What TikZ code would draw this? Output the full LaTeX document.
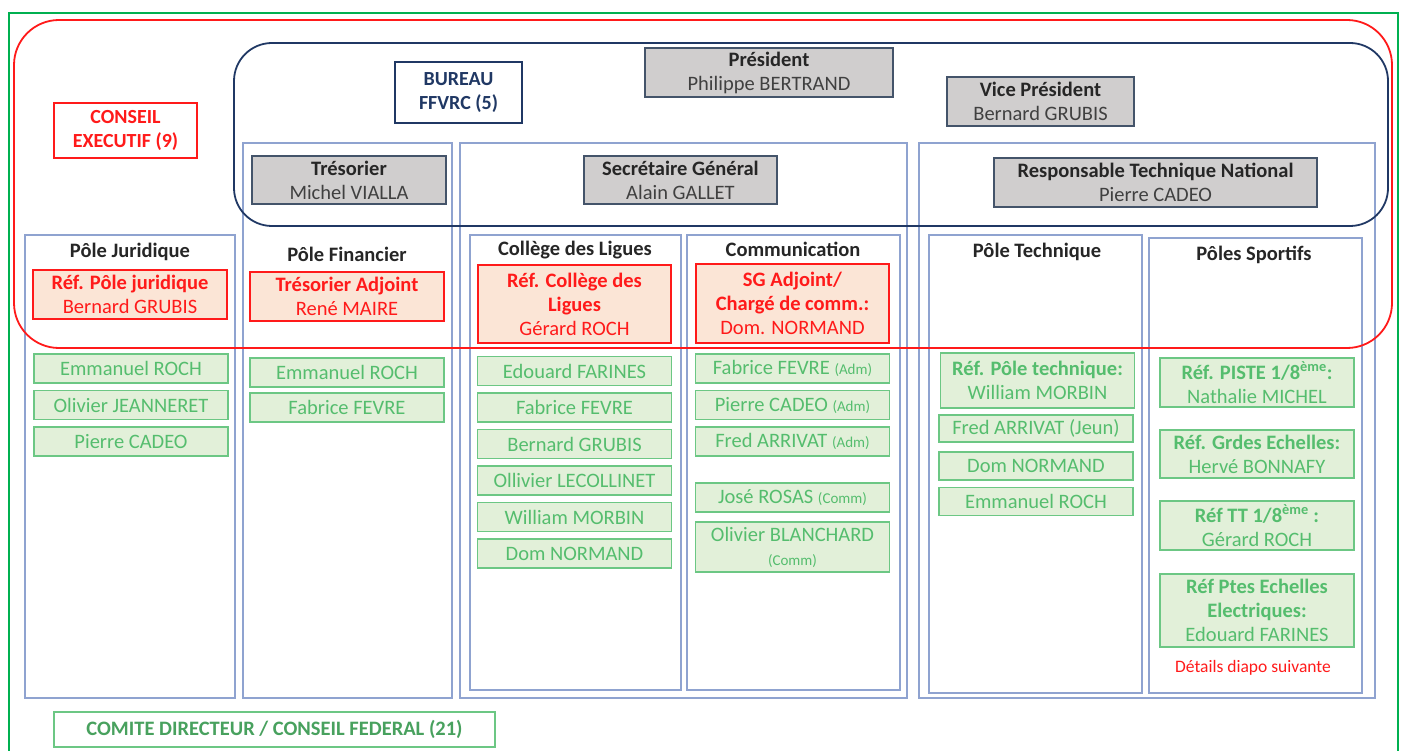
\documentclass[tikz,border=0pt]{standalone}
\usepackage{fontspec}
\setmainfont{Carlito}
\usetikzlibrary{positioning}

\definecolor{marine}{HTML}{203864}
\definecolor{cadre}{HTML}{8FA3D0}
\definecolor{grisfond}{HTML}{D0CECE}
\definecolor{grisbord}{HTML}{44546A}
\definecolor{textegris}{HTML}{404040}
\definecolor{titregris}{HTML}{262626}
\definecolor{rose}{HTML}{FBE5D6}
\definecolor{rouge}{HTML}{FF1A1A}
\definecolor{vertfond}{HTML}{E2F0D9}
\definecolor{vertbord}{HTML}{6CC784}
\definecolor{verttexte}{HTML}{55BD6E}
\definecolor{vertcadre}{HTML}{00B050}

\tikzset{
  colonne/.style={draw=cadre, line width=1.2pt, inner sep=0pt},
  entete/.style={text=titregris, font=\fontsize{20.5}{24}\selectfont\bfseries},
  grisbox/.style={draw=grisbord, fill=grisfond, line width=1.5pt, inner sep=0pt,
    align=center, text=textegris, font=\fontsize{20.5}{24}\selectfont},
  rosebox/.style={draw=rouge, fill=rose, line width=1.5pt, inner sep=0pt,
    align=center, text=rouge, font=\fontsize{20.5}{24}\selectfont},
  vertbox/.style={draw=vertbord, fill=vertfond, line width=1.5pt, inner sep=0pt,
    outer sep=0pt, align=center, text=verttexte, minimum width=194,
    minimum height=29, font=\fontsize{20.5}{24}\selectfont},
  petit/.style={font=\fontsize{17.5}{20}\selectfont}
}

\begin{document}
\begin{tikzpicture}[x=1pt, y=-1pt, node distance=7.5pt]
  \useasboundingbox (0,0) rectangle (1405,751);

  % cadre vert du comite directeur
  \draw[vertcadre, line width=1.5pt] (9,760) |- (1398,13) -- (1398,760);

  % colonnes
  \node[colonne, minimum width=210, minimum height=463] (cJur) at (130,466.5) {};
  \node[colonne, minimum width=209, minimum height=555] (cTres) at (347.5,420.5) {};
  \node[colonne, minimum width=447, minimum height=555] (cSG) at (683.5,420.5) {};
  \node[colonne, minimum width=456, minimum height=555] (cRTN) at (1147,420.5) {};
  \node[colonne, minimum width=211, minimum height=455] (cCol) at (575.5,462.5) {};
  \node[colonne, minimum width=213, minimum height=455] (cCom) at (793.5,462.5) {};
  \node[colonne, minimum width=213, minimum height=458] (cTech) at (1035.5,464) {};
  \node[colonne, minimum width=213, minimum height=455] (cSport) at (1255.5,465.5) {};

  \node[entete] (hJur) at (130,252) {Pôle Juridique};
  \node[entete] (hFin) at (347,254) {Pôle Financier};
  \node[entete] (hCol) at (575,250) {Collège des Ligues};
  \node[entete] (hCom) at (793,249) {Communication};
  \node[entete] (hTech) at (1037,252) {Pôle Technique};
  \node[entete] (hSport) at (1254,255) {Pôles Sportifs};

  % conseil executif et bureau
  \node[draw=rouge, line width=1.8pt, rounded corners=45, inner sep=0pt,
    minimum width=1378, minimum height=328] (executif) at (703,184) {};
  \node[draw=marine, line width=1.8pt, rounded corners=38, inner sep=0pt,
    minimum width=1154, minimum height=183] (bureau) at (811,134.5) {};

  \node[draw=rouge, line width=1.2pt, fill=white, inner sep=0pt, align=center,
    text=rouge, font=\fontsize{20}{24}\selectfont\bfseries,
    minimum width=143, minimum height=55] (ce) at (125.5,130.5) {CONSEIL\\EXECUTIF (9)};
  \node[draw=marine, line width=1.2pt, fill=white, inner sep=0pt, align=center,
    text=marine, font=\fontsize{20}{24}\selectfont\bfseries,
    minimum width=127, minimum height=61] (bu) at (458.5,92.5) {BUREAU\\FFVRC (5)};

  \node[grisbox, minimum width=248, minimum height=49] (pres) at (769,72.5)
    {\textcolor{titregris}{\textbf{Président}}\\Philippe BERTRAND};
  \node[grisbox, minimum width=187, minimum height=49] (vp) at (1040.5,101.5)
    {\textcolor{titregris}{\textbf{Vice Président}}\\Bernard GRUBIS};
  \node[grisbox, minimum width=194, minimum height=48] (tres) at (349,180)
    {\textcolor{titregris}{\textbf{Trésorier}}\\Michel VIALLA};
  \node[grisbox, minimum width=193, minimum height=48] (sg) at (680.5,180)
    {\textcolor{titregris}{\textbf{Secrétaire Général}}\\Alain GALLET};
  \node[grisbox, minimum width=323, minimum height=49] (rtn) at (1155.5,182.5)
    {\textcolor{titregris}{\textbf{Responsable Technique National}}\\Pierre CADEO};

  % referents du conseil executif
  \node[rosebox, minimum width=194, minimum height=49] (refJur) at (130,294.5)
    {\textbf{Réf. Pôle juridique}\\Bernard GRUBIS};
  \node[rosebox, minimum width=194, minimum height=49] (tresAdj) at (347,296.5)
    {\textbf{Trésorier Adjoint}\\René MAIRE};
  \node[rosebox, minimum width=193, minimum height=78] (refCol) at (574.5,304)
    {\textbf{Réf. Collège des}\\\textbf{Ligues}\\Gérard ROCH};
  \node[rosebox, minimum width=193, minimum height=79] (sgAdj) at (792.5,303.5)
    {\textbf{SG Adjoint/}\\\textbf{Chargé de comm.:}\\Dom. NORMAND};

  % pole juridique
  \node[vertbox] (j1) at (131,368.5) {Emmanuel ROCH};
  \node[vertbox, below=of j1] (j2) {Olivier JEANNERET};
  \node[vertbox, below=of j2] (j3) {Pierre CADEO};

  % pole financier
  \node[vertbox] (f1) at (347,372.5) {Emmanuel ROCH};
  \node[vertbox, below=6pt of f1] (f2) {Fabrice FEVRE};

  % college des ligues
  \node[vertbox] (l1) at (574.5,371) {Edouard FARINES};
  \node[vertbox, below=of l1] (l2) {Fabrice FEVRE};
  \node[vertbox, below=of l2] (l3) {Bernard GRUBIS};
  \node[vertbox, below=of l3] (l4) {Ollivier LECOLLINET};
  \node[vertbox, below=of l4] (l5) {William MORBIN};
  \node[vertbox, below=of l5] (l6) {Dom NORMAND};

  % communication
  \node[vertbox] (m1) at (792.5,368.5) {Fabrice FEVRE {\fontsize{15}{18}\selectfont(Adm)}};
  \node[vertbox, below=of m1] (m2) {Pierre CADEO {\fontsize{15}{18}\selectfont(Adm)}};
  \node[vertbox, below=of m2] (m3) {Fred ARRIVAT {\fontsize{15}{18}\selectfont(Adm)}};
  \node[vertbox, below=27pt of m3] (m4) {José ROSAS {\fontsize{15}{18}\selectfont(Comm)}};
  \node[vertbox, minimum height=50, below=10pt of m4] (m5)
    {Olivier BLANCHARD\\{\fontsize{15}{18}\selectfont(Comm)}};

  % pole technique
  \node[vertbox, minimum height=55] (t1) at (1037.5,380.5)
    {\textbf{Réf. Pôle technique:}\\William MORBIN};
  \node[vertbox, minimum height=27] (t2) at (1036,428.5) {Fred ARRIVAT (Jeun)};
  \node[vertbox, minimum height=28, below=10pt of t2] (t3) {Dom NORMAND};
  \node[vertbox, minimum height=28, below=of t3] (t4) {Emmanuel ROCH};

  % poles sportifs
  \node[vertbox, minimum height=49] (s1) at (1257,382.5)
    {\textbf{Réf. PISTE 1/8\textsuperscript{ème}:}\\Nathalie MICHEL};
  \node[vertbox, minimum height=48, below=23pt of s1] (s2)
    {\textbf{Réf. Grdes Echelles:}\\Hervé BONNAFY};
  \node[vertbox, minimum height=49, below=23pt of s2] (s3)
    {\textbf{Réf TT 1/8\textsuperscript{ème} :}\\Gérard ROCH};
  \node[vertbox, minimum height=73, below=24pt of s3] (s4)
    {\textbf{Réf Ptes Echelles}\\\textbf{Electriques:}\\Edouard FARINES};
  \node[text=rouge, petit] (details) at (1253,668) {Détails diapo suivante};

  % comite directeur
  \node[draw=vertbord, line width=1.2pt, fill=white, inner sep=0pt,
    text=verttexte!85!black, font=\fontsize{20.5}{24}\selectfont\bfseries,
    minimum width=441, minimum height=35] (cd) at (274.5,729.5)
    {COMITE DIRECTEUR / CONSEIL FEDERAL (21)};
\end{tikzpicture}
\end{document}
